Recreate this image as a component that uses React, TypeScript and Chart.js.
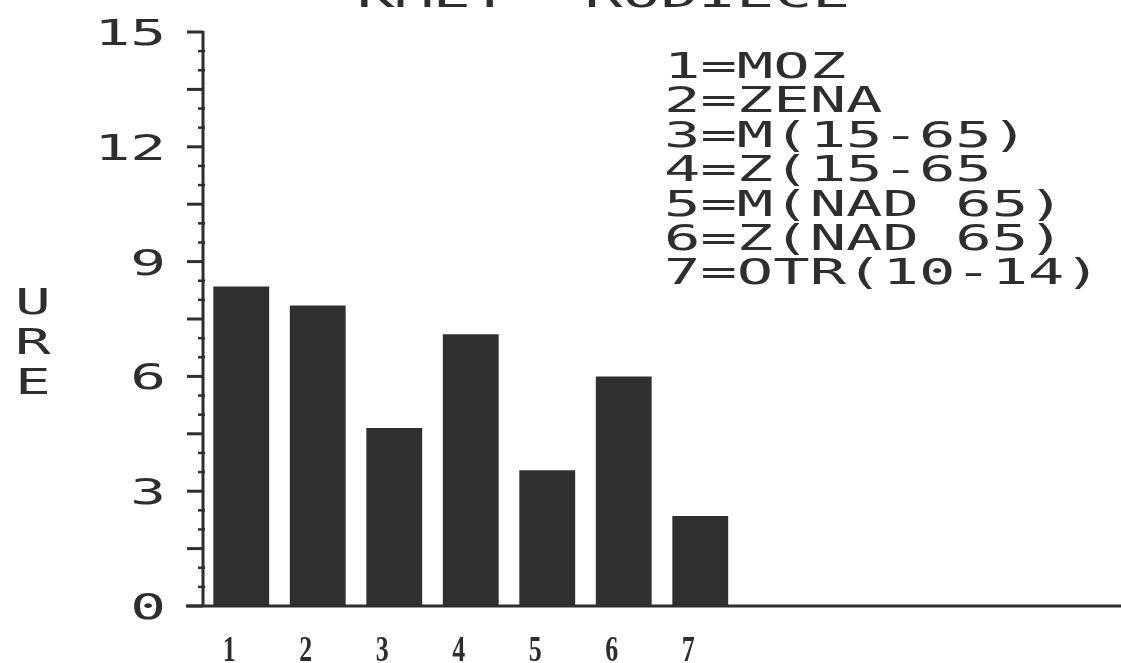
import React, { useEffect, useRef } from "react";
import { Chart, registerables } from "chart.js";

Chart.register(...registerables);

const titleText = "KMET- RODIECE";
const categories = ["1", "2", "3", "4", "5", "6", "7", "", "", "", "", ""];
const hours = [8.35, 7.85, 4.65, 7.1, 3.55, 6.0, 2.35];
const yLabelValues = [0, 3, 6, 9, 12, 15];
const yTickLabels = ["0", "3", "6", "9", "12", "15"];
const axisTitle = "URE";
const legendLines = [
  "1=MOZ",
  "2=ZENA",
  "3=M(15-65)",
  "4=Z(15-65",
  "5=M(NAD 65)",
  "6=Z(NAD 65)",
  "7=OTR(10-14)",
];

const INK = "#2e2e2e";
const MONO = '"DejaVu Sans Mono", "Liberation Mono", monospace';

function stretchedText(
  ctx: CanvasRenderingContext2D,
  text: string,
  x: number,
  y: number,
  sx: number,
  align: CanvasTextAlign
) {
  ctx.save();
  ctx.translate(x, y);
  ctx.scale(sx, 1);
  ctx.textAlign = align;
  ctx.textBaseline = "alphabetic";
  ctx.fillText(text, 0, 0);
  ctx.restore();
}

const decorPlugin = {
  id: "decor",
  beforeDraw(chart: any) {
    const ctx = chart.ctx;
    ctx.save();
    ctx.fillStyle = "#ffffff";
    ctx.fillRect(0, 0, chart.width, chart.height);
    ctx.restore();
  },
  afterDatasetsDraw(chart: any) {
    const ctx: CanvasRenderingContext2D = chart.ctx;
    const area = chart.chartArea;
    const y = chart.scales.y;
    const x = chart.scales.x;
    ctx.save();
    ctx.strokeStyle = INK;
    ctx.fillStyle = INK;
    ctx.lineCap = "butt";

    // y axis line
    ctx.lineWidth = 3;
    ctx.beginPath();
    ctx.moveTo(area.left, y.getPixelForValue(15) - 1);
    ctx.lineTo(area.left, y.getPixelForValue(0) + 1);
    ctx.stroke();

    // x axis line
    ctx.beginPath();
    ctx.moveTo(area.left - 17, area.bottom);
    ctx.lineTo(chart.width, area.bottom);
    ctx.stroke();

    // ticks: major every 1.5, minor every 0.5
    for (let k = 0; k <= 30; k++) {
      const v = k * 0.5;
      const py = y.getPixelForValue(v);
      ctx.beginPath();
      if (k % 3 === 0) {
        ctx.lineWidth = 3;
        ctx.moveTo(area.left - 16, py);
        ctx.lineTo(area.left, py);
      } else {
        ctx.lineWidth = 2.5;
        ctx.moveTo(area.left - 5, py);
        ctx.lineTo(area.left + 2, py);
      }
      ctx.stroke();
    }

    // y tick labels
    ctx.font = `36px ${MONO}`;
    yLabelValues.forEach((v, i) => {
      const py = y.getPixelForValue(v);
      stretchedText(ctx, yTickLabels[i], 166, py + 13, 1.65, "right");
    });

    // x tick labels
    ctx.font = `bold 36px "Liberation Serif", serif`;
    categories.forEach((c, i) => {
      if (!c) return;
      const px = x.getPixelForValue(i) - 12;
      stretchedText(ctx, c, px, 661, 0.72, "center");
    });

    // axis title, stacked letters
    ctx.font = `36px ${MONO}`;
    axisTitle.split("").forEach((ch, i) => {
      stretchedText(ctx, ch, 33, 314 + i * 40, 1.65, "center");
    });

    // legend text
    legendLines.forEach((line, i) => {
      stretchedText(ctx, line, 664, 78 + i * 34.4, 1.68, "left");
    });

    // title (cut off at top)
    stretchedText(ctx, titleText, 357, 7, 1.75, "left");

    ctx.restore();
  },
};

export default function App() {
  const ref = useRef<HTMLCanvasElement | null>(null);
  useEffect(() => {
    if (!ref.current) return;
    const chart = new Chart(ref.current, {
      type: "bar",
      data: {
        labels: categories,
        datasets: [
          {
            data: hours,
            backgroundColor: "#303030",
            borderWidth: 0,
            barPercentage: 0.73,
            categoryPercentage: 1,
          },
        ],
      },
      options: {
        responsive: false,
        animation: false,
        layout: { padding: { left: 203, right: -3, top: 32, bottom: 57 } },
        plugins: {
          legend: { display: false },
          tooltip: { enabled: false },
          title: { display: false },
        },
        scales: {
          x: { display: false, offset: true },
          y: { display: false, min: 0, max: 15 },
        },
      },
      plugins: [decorPlugin],
    });
    return () => chart.destroy();
  }, []);
  return (
    <div style={{ position: "fixed", left: 0, top: 0, background: "#fff" }}>
      <canvas ref={ref} width={1121} height={663} />
    </div>
  );
}
